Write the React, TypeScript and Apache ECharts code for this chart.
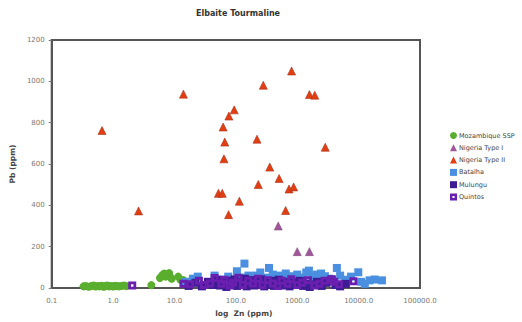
import React, { useEffect, useRef } from "react";
import * as echarts from "echarts";

const title = "Elbaite Tourmaline";
const xName = "log  Zn (ppm)";
const yName = "Pb (ppm)";
const seriesNames = ["Mozambique SSP", "Nigeria Type I", "Nigeria Type II", "Batalha", "Mulungu", "Quintos"];

const mozambique: number[][] = [
  [0.33, 8], [0.36, 10], [0.4, 6], [0.44, 9], [0.48, 12], [0.52, 7], [0.56, 10], [0.6, 8],
  [0.65, 11], [0.7, 6], [0.75, 9], [0.8, 12], [0.86, 8], [0.92, 10], [1.0, 7], [1.08, 11],
  [1.15, 9], [1.25, 8], [1.35, 10], [1.5, 12], [1.65, 9], [4.2, 14], [5.8, 48], [6.3, 62],
  [6.8, 70], [7.2, 55], [7.6, 66], [8.2, 72], [8.6, 52], [9.0, 45], [11.5, 55], [12.5, 40],
  [14, 38], [17, 30],
];
const nigeriaI: number[][] = [[490, 300], [1000, 176], [1580, 176]];
const nigeriaII: number[][] = [
  [0.66, 762], [2.6, 373], [14, 938], [280, 981], [94, 862], [77, 832], [62, 779], [66, 706],
  [221, 720], [64, 625], [357, 585], [507, 530], [232, 501], [52, 458], [60, 458], [114, 420],
  [76, 355], [809, 1050], [1580, 936], [1930, 933], [2860, 681], [735, 479], [873, 489], [647, 375],
];
const batalha: number[][] = [
  [15, 30], [20, 45], [24, 55], [45, 60], [60, 40], [75, 55], [90, 35], [104, 81], [120, 50],
  [138, 118], [160, 60], [185, 45], [214, 60], [250, 75], [300, 50], [347, 97], [400, 65],
  [450, 40], [507, 60], [573, 57], [650, 70], [771, 57], [850, 45], [1000, 65], [1200, 50],
  [1400, 75], [1550, 84], [1800, 55], [2100, 65], [2450, 70], [2820, 57], [3300, 45], [4420, 97],
  [5000, 60], [6000, 40], [7500, 55], [9880, 76], [11000, 30], [12600, 20], [15100, 37],
  [18200, 41], [24000, 37],
];
const mulungu: number[][] = [
  [17, 10], [22, 25], [28, 8], [35, 30], [42, 15], [50, 40], [55, 12], [62, 28], [70, 5], [78, 35],
  [85, 18], [95, 42], [105, 10], [115, 30], [125, 20], [140, 45], [150, 8], [165, 25], [180, 38],
  [200, 12], [220, 30], [240, 18], [260, 42], [290, 8], [320, 28], [350, 15], [380, 35], [420, 10],
  [460, 25], [500, 40], [550, 12], [600, 30], [680, 18], [750, 8], [850, 28], [950, 15], [1100, 35],
  [1250, 10], [1400, 22], [1600, 5], [1800, 18], [2100, 30], [2500, 10], [3000, 25], [3600, 42],
  [4200, 15], [5000, 8], [6200, 20],
];
const quintos: number[][] = [
  [2.05, 12], [14, 20], [18, 18], [25, 35], [30, 15], [38, 22], [45, 48], [58, 20], [65, 40],
  [80, 12], [90, 25], [110, 50], [130, 15], [160, 35], [190, 22], [230, 45], [270, 15], [330, 38],
  [400, 22], [480, 10], [560, 35], [700, 20], [800, 42], [1000, 15], [1200, 25], [1500, 38],
  [1900, 12], [2300, 20], [2800, 35], [3670, 41], [4000, 30], [4800, 18], [8220, 33],
];

const holeSquare = "path://M0,0L10,0L10,10L0,10Z M3.5,3.5L3.5,6.5L6.5,6.5L6.5,3.5Z";
const smallTriangle = "path://M0,0L10,0L10,10L0,10Z";

export default function App() {
  const ref = useRef<HTMLDivElement>(null);
  useEffect(() => {
    if (!ref.current) return;
    const chart = echarts.init(ref.current, undefined, { renderer: "svg" });
    const font = "DejaVu Sans, Verdana, sans-serif";
    chart.setOption({
      animation: false,
      backgroundColor: "#ffffff",
      textStyle: { fontFamily: font },
      title: {
        text: title,
        left: 233,
        top: 4,
        textAlign: "center",
        textStyle: { fontSize: 8, fontWeight: "bold", color: "#333", fontFamily: font },
      },
      legend: {
        orient: "vertical",
        left: 445,
        top: 127,
        itemWidth: 7,
        itemHeight: 7,
        itemGap: 5.3,
        textStyle: { fontSize: 6.5, color: "#444", fontFamily: font, padding: [0, 0, 0, -3] },
        data: [
          { name: seriesNames[0], icon: "circle" },
          { name: seriesNames[1], icon: "triangle", itemStyle: { borderWidth: 0 } },
          { name: seriesNames[2], icon: "triangle", itemStyle: { borderWidth: 0 } },
          { name: seriesNames[3], icon: "rect" },
          { name: seriesNames[4], icon: "rect" },
          { name: seriesNames[5], icon: holeSquare },
        ],
      },
      grid: {
        left: 48,
        right: 102,
        top: 40,
        bottom: 30,
        show: true,
        borderColor: "#555",
        borderWidth: 2,
      },
      xAxis: {
        type: "log",
        logBase: 10,
        min: 0.1,
        max: 100000,
        name: xName,
        nameLocation: "middle",
        nameGap: 21,
        nameTextStyle: { fontSize: 7.5, fontWeight: "bold", color: "#444", padding: [0, 0, 0, 16] },
        axisLine: { show: true, lineStyle: { color: "#555", width: 2 } },
        axisTick: { show: false },
        splitLine: { show: false },
        axisLabel: {
          fontSize: 7,
          color: "#777",
          margin: 9,
          formatter: (v: number) => v.toFixed(1),
        },
      },
      yAxis: {
        type: "value",
        min: 0,
        max: 1200,
        interval: 200,
        name: yName,
        nameLocation: "middle",
        nameGap: 27,
        nameTextStyle: { fontSize: 7.5, fontWeight: "bold", color: "#444" },
        axisLine: { show: true, lineStyle: { color: "#555", width: 2 } },
        axisTick: { show: true, length: 3, lineStyle: { color: "#777" } },
        splitLine: { show: false },
        axisLabel: { fontSize: 7, color: "#777", margin: 7, formatter: (v: number) => String(v) },
      },
      series: [
        {
          name: seriesNames[0], type: "scatter", data: mozambique, symbol: "circle", symbolSize: 8,
          itemStyle: { color: "#5aae2e", opacity: 1 },
        },
        {
          name: seriesNames[1], type: "scatter", data: nigeriaI, symbol: "triangle", symbolSize: 8,
          itemStyle: { color: "#a0569a", borderColor: "#7a3c70", borderWidth: 0.5, opacity: 1 },
        },
        {
          name: seriesNames[2], type: "scatter", data: nigeriaII, symbol: "triangle", symbolSize: 8,
          itemStyle: { color: "#e33d12", borderColor: "#a8321c", borderWidth: 0.6, opacity: 1 },
        },
        {
          name: seriesNames[3], type: "scatter", data: batalha, symbol: "rect", symbolSize: 8,
          itemStyle: { color: "#4a8fe0", opacity: 1 },
        },
        {
          name: seriesNames[4], type: "scatter", data: mulungu, symbol: "rect", symbolSize: 8,
          itemStyle: { color: "#3d1c93", opacity: 1 },
        },
        {
          name: seriesNames[5], type: "scatter", data: quintos, symbol: holeSquare, symbolSize: 8,
          itemStyle: { color: "#6a1fb0", opacity: 1 },
        },
      ],
    });
    void smallTriangle;
    return () => chart.dispose();
  }, []);
  return (
    <div
      ref={ref}
      style={{ position: "absolute", left: 0, top: 0, width: 522, height: 322 }}
    />
  );
}
